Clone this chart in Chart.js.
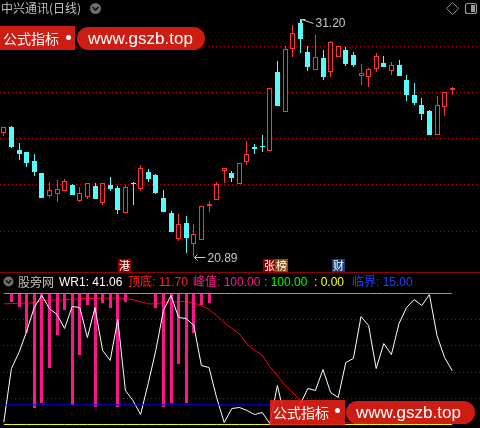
<!DOCTYPE html>
<html>
<head>
<meta charset="utf-8">
<script src="https://cdn.jsdelivr.net/npm/chart.js@4.4.0/dist/chart.umd.min.js"></script>
<style>
  body { margin: 0; background: #000; }
  #wrap { position: relative; width: 480px; height: 428px; overflow: hidden; background: #000;
          font-family: "Liberation Sans", "Noto Sans CJK SC", sans-serif; }
  canvas { position: absolute; left: 0; }
  .t { position: absolute; white-space: nowrap; font-size: 12px; line-height: 14px; }
  .tag { position: absolute; top: 259px; width: 13px; height: 13px; color: #fff; font-size: 11px;
         line-height: 13px; text-align: center; font-family: "Noto Sans CJK SC", sans-serif; }
  .wm { position: absolute; background: rgba(226, 32, 20, 0.9); color: #fff; white-space: nowrap; }
  .wm.cn { font-family: "Noto Sans CJK SC", sans-serif; font-size: 14px; }
  .wm.url { font-family: "Liberation Sans", sans-serif; font-size: 17px; border-radius: 12px; }
  .dot { position: absolute; width: 5px; height: 5px; border-radius: 50%; background: #fff; }
</style>
</head>
<body>
<div id="wrap">
  <canvas id="kline" width="480" height="272" style="top:0"></canvas>
  <canvas id="wr" width="480" height="138" style="top:290px"></canvas>

  <div style="position:absolute;left:0;top:272px;width:480px;height:1px;background:#8b0000"></div>

  <div class="t" style="left:1px;top:1px;color:#c0c0c0;font-family:'Noto Sans CJK SC'">中兴通讯(日线)</div>
  <svg style="position:absolute;left:89px;top:2px" width="13" height="13">
    <circle cx="6.5" cy="6.5" r="5.5" fill="#6e6e6e"/>
    <polyline points="3.5,5 6.5,8 9.5,5" fill="none" stroke="#111" stroke-width="1.6"/>
  </svg>
  <svg style="position:absolute;left:445px;top:1px" width="34" height="15">
    <polygon points="7.5,1.5 13.5,7.5 7.5,13.5 1.5,7.5" fill="none" stroke="#8a8a8a"/>
    <rect x="20.5" y="2.5" width="11" height="10" rx="2" fill="none" stroke="#9a9a9a" stroke-width="1.2"/>
    <rect x="26" y="4" width="4" height="7" fill="#9a9a9a"/>
  </svg>

  <div class="tag" style="left:118px;background:#900000">港</div>
  <div class="tag" style="left:263px;background:#900000">张</div>
  <div class="tag" style="left:275px;background:#8a4a10">榜</div>
  <div class="tag" style="left:332px;background:#12407a">财</div>

  <svg style="position:absolute;left:3px;top:276px" width="11" height="11">
    <circle cx="5.5" cy="5.5" r="5" fill="#6e6e6e"/>
    <polyline points="2.8,4.3 5.5,7 8.2,4.3" fill="none" stroke="#111" stroke-width="1.5"/>
  </svg>
  <div class="t" style="left:18px;top:275px;color:#c0c0c0;font-family:'Noto Sans CJK SC'">股旁网</div>
  <div class="t" style="left:59px;top:275px;color:#ffffff">WR1: 41.06</div>
  <div class="t" style="left:128px;top:275px;color:#ff2020">顶底: 11.70</div>
  <div class="t" style="left:193px;top:275px;color:#ff1a8c">峰值: 100.00</div>
  <div class="t" style="left:264px;top:275px;color:#00ff00">: 100.00</div>
  <div class="t" style="left:314px;top:275px;color:#ffff00">: 0.00</div>
  <div class="t" style="left:352px;top:275px;color:#2040ff">临界: 15.00</div>

  <div class="wm cn" style="left:0;top:26px;width:75px;height:24px;line-height:24px;padding-left:3px;box-sizing:border-box">公式指标</div>
  <div class="dot" style="left:66px;top:35px"></div>
  <div class="wm url" style="left:77px;top:27px;width:128px;height:23px;line-height:23px;padding-left:11px;box-sizing:border-box">www.gszb.top</div>

  <div class="wm cn" style="left:270px;top:400px;width:75px;height:25px;line-height:25px;padding-left:3px;box-sizing:border-box">公式指标</div>
  <div class="dot" style="left:335px;top:408px"></div>
  <div class="wm url" style="left:346px;top:401px;width:129px;height:23px;line-height:23px;padding-left:10px;box-sizing:border-box">www.gszb.top</div>
</div>

<script>
// daily OHLC, 60 sessions
const open = [26.27, 26.53, 25.52, 25.43, 25.04, 24.52, 23.54, 23.62, 23.75, 24.00,
              23.32, 23.49, 23.96, 23.21, 24.00, 23.86, 22.80, 24.10, 23.83, 24.55,
              24.43, 23.42, 22.80, 21.66, 22.34, 21.43, 21.60, 23.08, 23.36, 24.59,
              24.51, 24.04, 25.01, 25.63, 25.70, 25.49, 28.90, 27.18, 29.89, 31.04,
              29.75, 28.99, 29.49, 28.91, 29.54, 29.85, 29.64, 28.74, 28.67, 29.02,
              29.28, 28.96, 29.20, 28.55, 27.90, 27.47, 27.21, 26.17, 27.40, 28.13];
const close = [26.52, 25.63, 25.36, 24.97, 24.56, 23.45, 23.78, 23.83, 24.16, 23.58,
               23.64, 24.07, 23.41, 24.07, 23.83, 22.92, 23.90, 24.06, 24.72, 24.27,
               23.67, 22.84, 21.97, 22.30, 21.71, 21.86, 23.08, 23.16, 24.03, 24.72,
               24.32, 24.94, 25.33, 25.57, 25.63, 28.19, 27.44, 29.89, 30.58, 30.33,
               29.13, 29.56, 28.70, 30.19, 30.03, 29.25, 29.20, 28.84, 29.02, 29.59,
               29.13, 29.20, 28.73, 27.90, 27.57, 27.08, 26.17, 27.47, 28.03, 28.21];
const high = [26.52, 26.56, 25.82, 25.43, 25.34, 24.52, 24.13, 24.22, 24.26, 24.04,
              23.90, 24.07, 24.10, 24.07, 24.33, 23.96, 24.00, 24.13, 24.85, 24.69,
              24.48, 23.78, 22.87, 22.74, 22.66, 22.30, 23.08, 23.29, 24.12, 24.72,
              24.61, 24.94, 25.91, 25.76, 26.17, 28.19, 29.38, 30.03, 30.94, 31.20,
              30.03, 30.51, 29.85, 30.24, 30.03, 30.00, 29.75, 29.23, 29.06, 29.74,
              29.59, 29.35, 29.42, 28.77, 28.44, 27.79, 27.25, 27.86, 28.03, 28.25];
const low = [26.14, 25.60, 25.10, 24.79, 24.40, 23.45, 23.45, 23.28, 23.75, 23.58,
             23.28, 23.38, 23.41, 23.15, 23.75, 22.73, 22.77, 23.13, 23.75, 24.14,
             23.60, 22.84, 21.97, 21.57, 21.04, 20.89, 21.60, 22.84, 23.36, 24.09,
             24.14, 24.04, 24.87, 25.33, 25.44, 25.47, 27.44, 27.18, 29.54, 29.71,
             28.96, 28.99, 28.55, 28.70, 29.54, 29.16, 29.13, 28.34, 28.26, 28.91,
             29.13, 28.77, 28.73, 27.66, 27.47, 26.82, 26.17, 26.17, 26.99, 27.90];

// indicator series
const wr1 = [1.8, 42.7, 55.0, 71.0, 89.3, 98.5, 88.5, 84.0, 73.3, 90.1,
             89.3, 66.4, 89.3, 56.5, 48.9, 80.2, 26.0, 18.3, 7.6, 31.3,
             56.5, 87.0, 98.5, 81.7, 80.9, 75.6, 45.0, 43.5, 20.6, 1.5,
             12.2, 13.0, 10.7, 7.6, 9.2, 0.8, 29.8, 4.6, 4.6, 15.3,
             27.5, 26.0, 42.0, 24.4, 20.6, 47.3, 50.4, 82.4, 75.6, 42.7,
             61.8, 53.4, 77.1, 89.3, 95.4, 90.8, 99.2, 67.9, 51.1, 41.06];
const dingdi = [92.1, 92.3, 92.5, 92.7, 92.9, 94.5, 95.0, 95.1, 95.2, 95.6,
                96.0, 96.1, 96.3, 96.4, 96.5, 96.7, 96.2, 95.2, 93.8, 92.1,
                92.1, 93.4, 93.6, 93.8, 93.9, 92.8, 90.8, 87.8, 83.2, 77.9,
                73.3, 69.1, 61.5, 56.5, 53.1, 43.7, 37.4, 29.8, 24.4, 18.3,
                13.0, 9.0, 6.0, 4.0, 2.5, 1.5, 1.0, 0.8, 0.5, 0.3,
                0.3, 0.5, 1.0, 2.0, 3.5, 5.0, 7.0, 8.5, 10.0, 11.7];
// 峰值 sticks hang from 100 down to these values
const fengzhi = [null, 93.4, 89.5, 69.7, 12.4, 16.3, 43.0, 68.2, 87.3, 14.7,
                 52.9, 91.1, 13.2, 92.6, 88.8, 13.2, 93.4, null, null, null,
                 88.8, 13.2, 16.3, 46.0, 16.3, 69.7, 91.1, 92.6, null, null,
                 null, null, null, null, null, null, null, null, null, null,
                 null, null, null, null, null, null, null, null, null, null,
                 null, null, null, null, null, null, null, null, null, null];
const LEVEL_TOP = 100, LEVEL_ZERO = 0, LEVEL_CRIT = 15;

const priceGrid = [30.02, 28.02, 26.02, 24.04, 22.0];
const wrGrid = [80, 60, 40, 20];
const days = open.map((_, i) => String(i + 1));

const RED = "#ff3232", CYAN = "#54fcfc";
const up = open.map((o, i) => close[i] >= o);

// keep bar edges on whole pixels so the 1px borders and wicks stay sharp
const snap = {
  id: "snap",
  afterDatasetsUpdate(chart) {
    chart.data.datasets.forEach((ds, di) => {
      const meta = chart.getDatasetMeta(di);
      if (meta.type !== "bar") return;
      meta.data.forEach((el) => {
        el.x = Math.floor(el.x) + 0.5;
        el.y = Math.round(el.y);
        el.base = Math.round(el.base);
        if (Math.abs(el.base - el.y) < 1) el.y = el.base - 1;
      });
    });
  },
};

const dotGrid = {
  id: "dotGrid",
  beforeDatasetsDraw(chart, args, opts) {
    const { ctx, scales: { y } } = chart;
    ctx.save();
    ctx.strokeStyle = opts.color;
    ctx.lineWidth = 1;
    ctx.setLineDash([1, 3]);
    opts.values.forEach((v) => {
      const py = Math.floor(y.getPixelForValue(v)) + 0.5;
      ctx.beginPath();
      ctx.moveTo(opts.from, py);
      ctx.lineTo(chart.width, py);
      ctx.stroke();
    });
    ctx.restore();
  },
};

const extremes = {
  id: "extremes",
  afterDatasetsDraw(chart) {
    const { ctx, scales: { x, y } } = chart;
    const hi = Math.max(...high), lo = Math.min(...low);
    const ih = high.indexOf(hi), il = low.indexOf(lo);
    ctx.save();
    ctx.strokeStyle = "#c8c8c8";
    ctx.fillStyle = "#c8c8c8";
    ctx.lineWidth = 1;
    ctx.font = "12px 'Liberation Sans'";
    ctx.textBaseline = "middle";
    let px = Math.floor(x.getPixelForValue(ih)) + 1.5, py = Math.round(y.getPixelForValue(hi)) + 0.5;
    ctx.beginPath();
    ctx.moveTo(px + 4, py); ctx.lineTo(px, py); ctx.lineTo(px, py + 4);
    ctx.moveTo(px, py); ctx.lineTo(px + 12, py + 4);
    ctx.stroke();
    ctx.fillText(hi.toFixed(2), px + 14, py + 4);
    px = Math.floor(x.getPixelForValue(il)) + 1.5; py = Math.round(y.getPixelForValue(lo)) + 0.5;
    ctx.beginPath();
    ctx.moveTo(px + 3, py - 3); ctx.lineTo(px, py); ctx.lineTo(px + 3, py + 3);
    ctx.moveTo(px, py); ctx.lineTo(px + 11, py);
    ctx.stroke();
    ctx.fillText(lo.toFixed(2), px + 13, py + 1);
    ctx.restore();
  },
};

new Chart(document.getElementById("kline"), {
  type: "bar",
  data: {
    labels: days,
    datasets: [
      { data: low.map((l, i) => [l, high[i]]), backgroundColor: up.map((u) => (u ? RED : CYAN)),
        barThickness: 1, order: 2 },
      { data: open.map((o, i) => [o, close[i]]), backgroundColor: up.map((u) => (u ? "#000" : CYAN)),
        borderColor: up.map((u) => (u ? RED : CYAN)), borderWidth: up.map((u) => (u ? 1 : 0)),
        barThickness: 5, minBarLength: 1, order: 1 },
    ],
  },
  options: {
    responsive: false, animation: false, events: [],
    layout: { padding: { left: 0, right: 24, top: 0, bottom: 0 } },
    datasets: { bar: { grouped: false, borderSkipped: false, inflateAmount: 0 } },
    plugins: { legend: { display: false }, tooltip: { enabled: false },
               dotGrid: { values: priceGrid, color: "#b00000", from: 0 } },
    scales: { x: { display: false, offset: true }, y: { display: false, min: 20.2265, max: 32.0231 } },
  },
  plugins: [snap, dotGrid, extremes],
});

const flat = (v) => days.map(() => v);
const line = (data, color, order) => ({ type: "line", data, borderColor: color, borderWidth: 1,
  pointRadius: 0, tension: 0, fill: false, order });

new Chart(document.getElementById("wr"), {
  type: "bar",
  data: {
    labels: days,
    datasets: [
      line(dingdi, "#ff0000", 5),
      { type: "bar", data: fengzhi.map((v) => (v == null ? null : [v, LEVEL_TOP])),
        backgroundColor: "#ff148c", barThickness: 3, order: 4 },
      line(wr1, "#ffffff", 3),
      line(flat(LEVEL_CRIT), "#0000ff", 2),
      line(flat(LEVEL_ZERO), "#ffff00", 1),
      line(flat(LEVEL_TOP), "#00ff00", 0),
    ],
  },
  options: {
    responsive: false, animation: false, events: [],
    layout: { padding: { left: 0, right: 24, top: 0, bottom: 0 } },
    datasets: { bar: { grouped: false, borderSkipped: false, inflateAmount: 0 } },
    plugins: { legend: { display: false }, tooltip: { enabled: false },
               dotGrid: { values: wrGrid, color: "#b00000", from: 3 } },
    scales: { x: { display: false, offset: true }, y: { display: false, min: -2.672, max: 102.672 } },
  },
  plugins: [snap, dotGrid],
});
</script>
</body>
</html>
